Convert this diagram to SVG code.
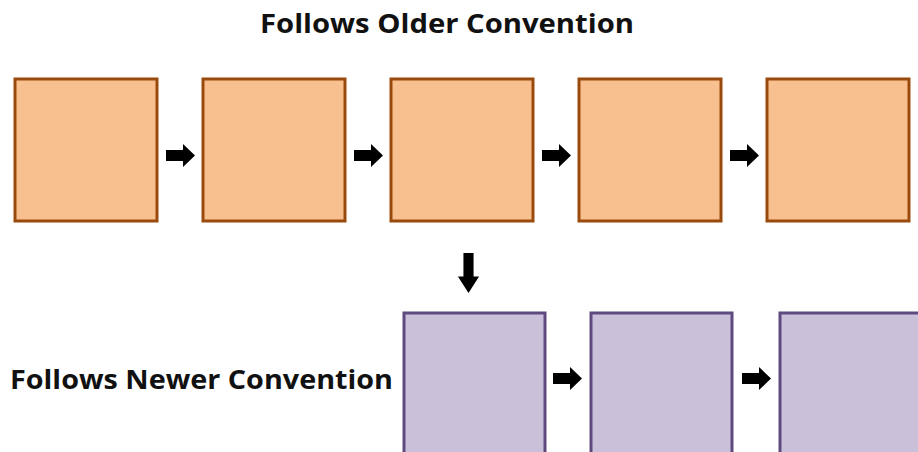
<svg xmlns="http://www.w3.org/2000/svg" width="918" height="452" viewBox="0 0 918 452">
<defs>
<style>
.old{fill:#F9C08F;stroke:#9A4A0C;stroke-width:3}
.new{fill:#CBC0DA;stroke:#5E4A7E;stroke-width:3}
.t{font-family:"Open Sans","Liberation Sans",sans-serif;font-weight:bold;font-size:27px;fill:#111}
.arr{fill:#000}
</style>
<path id="ar" d="M0,-5.5 H17 V-11.5 L29,0 L17,11.5 V5.5 H0 Z"/>
</defs>
<rect width="918" height="452" fill="#fff"/>
<text class="t" x="260" y="33" textLength="374" lengthAdjust="spacingAndGlyphs">Follows Older Convention</text>
<text class="t" x="10" y="389" textLength="383" lengthAdjust="spacingAndGlyphs">Follows Newer Convention</text>
<g id="o1"><rect class="old" x="15" y="79" width="142" height="142"/></g>
<g id="o2"><rect class="old" x="203" y="79" width="142" height="142"/></g>
<g id="o3"><rect class="old" x="391" y="79" width="142" height="142"/></g>
<g id="o4"><rect class="old" x="579" y="79" width="142" height="142"/></g>
<g id="o5"><rect class="old" x="767" y="79" width="142" height="142"/></g>
<g id="n1"><rect class="new" x="404" y="313" width="141" height="160"/></g>
<g id="n2"><rect class="new" x="591" y="313" width="141" height="160"/></g>
<g id="n3"><rect class="new" x="780" y="313" width="141" height="160"/></g>
<g id="connectors" class="arr">
<use href="#ar" x="166" y="155.5"/>
<use href="#ar" x="354" y="155.5"/>
<use href="#ar" x="542" y="155.5"/>
<use href="#ar" x="730" y="155.5"/>
<use href="#ar" x="553" y="378.5"/>
<use href="#ar" x="742" y="378.5"/>
<use href="#ar" transform="translate(468.5,253) rotate(90) scale(1.38,0.92)"/>
</g>
</svg>
